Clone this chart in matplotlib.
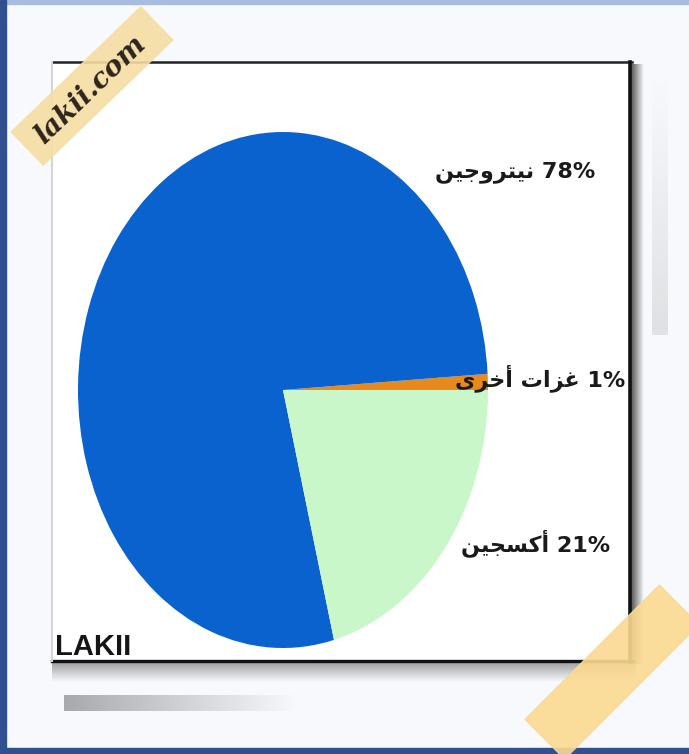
import matplotlib.pyplot as plt
import numpy as np
from matplotlib.patches import Rectangle, Polygon

# chart data
gases = ["غزات أخرى", "نيتروجين", "أكسجين"]
shares = [1, 78, 21]
colors = ["#e8891c", "#0a62cf", "#c9f7c9"]
watermark = "LAKII"
site = "lakii.com"

# minimal arabic shaping (isolated, final, initial, medial)
FORMS = {
    "ا": (0xFE8D, 0xFE8E, None, None), "أ": (0xFE83, 0xFE84, None, None),
    "ت": (0xFE95, 0xFE96, 0xFE97, 0xFE98), "ج": (0xFE9D, 0xFE9E, 0xFE9F, 0xFEA0),
    "خ": (0xFEA5, 0xFEA6, 0xFEA7, 0xFEA8), "ر": (0xFEAD, 0xFEAE, None, None),
    "ز": (0xFEAF, 0xFEB0, None, None), "س": (0xFEB1, 0xFEB2, 0xFEB3, 0xFEB4),
    "غ": (0xFECD, 0xFECE, 0xFECF, 0xFED0), "ك": (0xFED9, 0xFEDA, 0xFEDB, 0xFEDC),
    "ن": (0xFEE5, 0xFEE6, 0xFEE7, 0xFEE8), "و": (0xFEED, 0xFEEE, None, None),
    "ى": (0xFEEF, 0xFEF0, None, None), "ي": (0xFEF1, 0xFEF2, 0xFEF3, 0xFEF4),
}

def shape(s):
    out = []
    for i, c in enumerate(s):
        if c not in FORMS:
            out.append(c)
            continue
        p = s[i-1] if i > 0 else ""
        n = s[i+1] if i < len(s)-1 else ""
        jp = p in FORMS and FORMS[p][2] is not None
        jn = n in FORMS and FORMS[c][2] is not None
        f = FORMS[c]
        if jp and jn:
            code = f[3]
        elif jp:
            code = f[1]
        elif jn:
            code = f[2]
        else:
            code = f[0]
        out.append(chr(code))
    return "".join(out)[::-1]

W, H = 689, 754
fig = plt.figure(figsize=(6.89, 7.54), dpi=100)
ax0 = fig.add_axes([0, 0, 1, 1])

def grad(x0, x1, y0, y1, a0, a1, horiz=True, c=0.35):
    n = 64
    a = np.linspace(a0, a1, n)
    img = np.zeros((1, n, 4)) if horiz else np.zeros((n, 1, 4))
    img[..., :3] = c
    img[..., 3] = a.reshape(img.shape[:2])
    ax0.imshow(img, extent=(x0, x1, y1, y0), aspect="auto", zorder=2,
               interpolation="bilinear")

# page background and frame
ax0.add_patch(Rectangle((0, 0), W, H, color="#f8f9fc", zorder=0))
ax0.add_patch(Rectangle((0, 0), W, 4, color="#a8bce0", zorder=1))
ax0.add_patch(Rectangle((0, 0), 6, H, color="#30508f", zorder=1))
ax0.add_patch(Rectangle((0, 748), W, 6, color="#30508f", zorder=1))

# card with shadows
ax0.add_patch(Rectangle((52, 62), 580, 600, color="white", zorder=2))
grad(630, 644, 64, 664, 0.85, 0.0, horiz=True, c=0.15)
grad(52, 636, 661, 682, 0.55, 0.0, horiz=False, c=0.3)
grad(652, 668, 72, 335, 0.0, 0.18, horiz=False, c=0.45)
grad(64, 300, 695, 711, 0.5, 0.0, horiz=True, c=0.35)
ax0.plot([52, 632], [62, 62], color="#222222", lw=1.8, zorder=3)
ax0.plot([52, 632], [661, 661], color="#111111", lw=2.4, zorder=3)
ax0.plot([630, 630], [62, 662], color="#111111", lw=2.6, zorder=3)
ax0.plot([52, 52], [62, 661], color="#d5d5d5", lw=1.5, zorder=3)
ax0.set_xlim(0, W)
ax0.set_ylim(H, 0)
ax0.axis("off")

def tape(cx, cy, length, width, ang, color):
    t = np.radians(ang)
    u = np.array([np.cos(t), -np.sin(t)])
    v = np.array([np.sin(t), np.cos(t)])
    c = np.array([cx, cy])
    pts = [c - u*length/2 - v*width/2, c + u*length/2 - v*width/2,
           c + u*length/2 + v*width/2, c - u*length/2 + v*width/2]
    ax0.add_patch(Polygon(pts, closed=True, color=color, zorder=4, alpha=0.9))

tape(92, 86, 180, 46, 44, "#f5dea4")
tape(612, 672, 190, 56, 45, "#fbd991")
ax0.text(90, 90, site, rotation=44, fontsize=20, style="italic", fontweight="bold",
         family="DejaVu Serif", color="#2e241c", ha="center", va="center", zorder=5)
ax0.text(55, 647, watermark, fontsize=21, fontweight="bold",
         family="Liberation Sans", color="#151515", ha="left", va="center", zorder=5)

# pie
cx, cy, rx, ry = 283, 390, 205, 258
axp = fig.add_axes([(cx - rx) / W, (H - cy - ry) / H, 2 * rx / W, 2 * ry / H])
axp.pie(shares, colors=colors, startangle=0, counterclock=True, radius=1,
        wedgeprops=dict(linewidth=0))
axp.set_aspect("auto")
axp.set_xlim(-1, 1)
axp.set_ylim(-1, 1)
axp.axis("off")

# labels on top
ax2 = fig.add_axes([0, 0, 1, 1])
ax2.set_xlim(0, W)
ax2.set_ylim(H, 0)
ax2.axis("off")
label_pos = [(625, 378), (595, 172), (610, 543)]
for g, s, (x, y) in zip(gases, shares, label_pos):
    ax2.text(x, y, shape(g) + " " + f"{s}%", fontsize=16, fontweight="bold",
             family="DejaVu Sans", color="#1a1a1a", ha="right", va="center")

fig.savefig("out.png", dpi=100)
